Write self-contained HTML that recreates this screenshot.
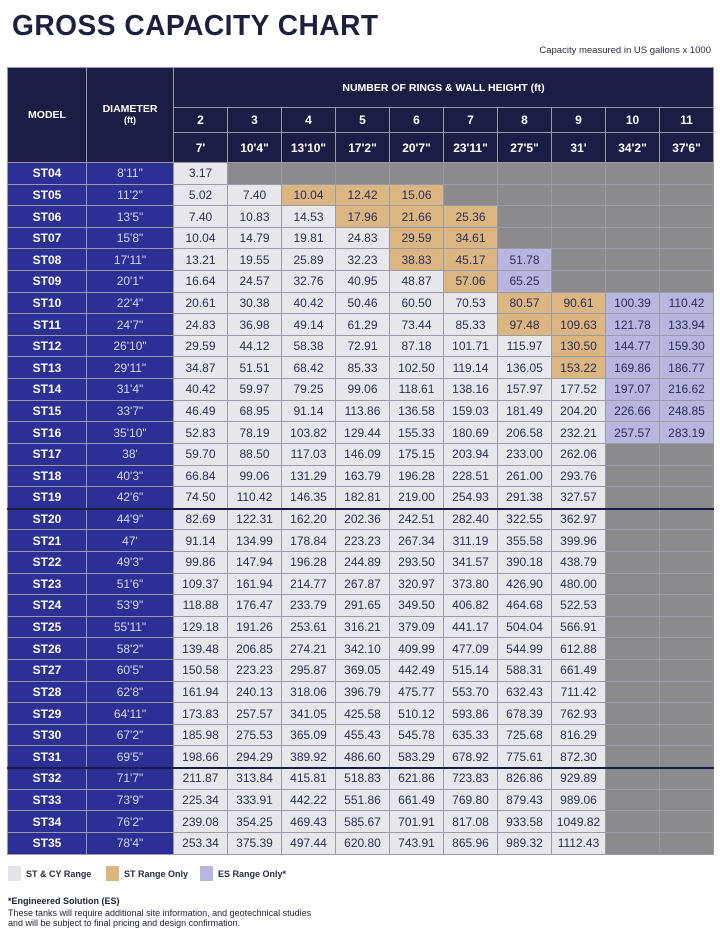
<!DOCTYPE html>
<html><head><meta charset="utf-8">
<style>
*{margin:0;padding:0;box-sizing:border-box}
body{width:720px;height:934px;background:#fff;font-family:"Liberation Sans",sans-serif;position:relative;overflow:hidden}
h1{position:absolute;left:12px;top:10px;font-size:29px;font-weight:bold;color:#1d1f3d;letter-spacing:0.5px;transform:scaleX(0.97);transform-origin:left}
.sub{position:absolute;right:9px;top:45px;font-size:9.5px;color:#2a2c45}
.t{position:absolute;left:7px;top:67px;width:707px;display:grid;grid-template-columns:78px 86px repeat(10,53px);grid-template-rows:39px 24px 29px repeat(32,20.62px);gap:1px;padding:1px;background:#9a9aa6}
.t>div{display:flex;align-items:center;justify-content:center;font-size:12px;white-space:nowrap;background:#e7e7eb;color:#2b2d55}
.t>.h{background:#1b1d45;color:#fff;font-weight:bold;font-size:12px}
.t>.m{background:#2b2f96;color:#fff;font-weight:bold}
.t>.d{background:#2b2f96;color:#d8d8f0}
.t>.o{background:#dcb680}
.t>.p{background:#b8b6de}
.t>.g{background:#8b8b8e}
.sep{position:absolute;left:7px;width:707px;height:2px;background:#1b1d45}
.leg{position:absolute;top:869px;font-size:9px;font-weight:bold;color:#2a2c45}
.sq{position:absolute;top:866px;width:13px;height:15px}
.fn{position:absolute;left:8px;font-size:9px;color:#1d1f30}
</style></head><body>
<h1>GROSS CAPACITY CHART</h1>
<div class="sub">Capacity measured in US gallons x 1000</div>
<div class="t">
<div class="h" style="grid-row:1/4;grid-column:1;font-size:10.5px">MODEL</div>
<div class="h" style="grid-row:1/4;grid-column:2;font-size:10.5px;flex-direction:column;line-height:11px">DIAMETER<span style="font-size:9px">(ft)</span></div>
<div class="h" style="grid-row:1;grid-column:3/13;font-size:10.5px">NUMBER OF RINGS &amp; WALL HEIGHT (ft)</div>
<div class="h">2</div><div class="h">3</div><div class="h">4</div><div class="h">5</div><div class="h">6</div><div class="h">7</div><div class="h">8</div><div class="h">9</div><div class="h">10</div><div class="h">11</div>
<div class="h">7'</div><div class="h">10'4"</div><div class="h">13'10"</div><div class="h">17'2"</div><div class="h">20'7"</div><div class="h">23'11"</div><div class="h">27'5"</div><div class="h">31'</div><div class="h">34'2"</div><div class="h">37'6"</div>
<div class="m">ST04</div><div class="d">8'11"</div><div>3.17</div><div class="g"></div><div class="g"></div><div class="g"></div><div class="g"></div><div class="g"></div><div class="g"></div><div class="g"></div><div class="g"></div><div class="g"></div>
<div class="m">ST05</div><div class="d">11'2"</div><div>5.02</div><div>7.40</div><div class="o">10.04</div><div class="o">12.42</div><div class="o">15.06</div><div class="g"></div><div class="g"></div><div class="g"></div><div class="g"></div><div class="g"></div>
<div class="m">ST06</div><div class="d">13'5"</div><div>7.40</div><div>10.83</div><div>14.53</div><div class="o">17.96</div><div class="o">21.66</div><div class="o">25.36</div><div class="g"></div><div class="g"></div><div class="g"></div><div class="g"></div>
<div class="m">ST07</div><div class="d">15'8"</div><div>10.04</div><div>14.79</div><div>19.81</div><div>24.83</div><div class="o">29.59</div><div class="o">34.61</div><div class="g"></div><div class="g"></div><div class="g"></div><div class="g"></div>
<div class="m">ST08</div><div class="d">17'11"</div><div>13.21</div><div>19.55</div><div>25.89</div><div>32.23</div><div class="o">38.83</div><div class="o">45.17</div><div class="p">51.78</div><div class="g"></div><div class="g"></div><div class="g"></div>
<div class="m">ST09</div><div class="d">20'1"</div><div>16.64</div><div>24.57</div><div>32.76</div><div>40.95</div><div>48.87</div><div class="o">57.06</div><div class="p">65.25</div><div class="g"></div><div class="g"></div><div class="g"></div>
<div class="m">ST10</div><div class="d">22'4"</div><div>20.61</div><div>30.38</div><div>40.42</div><div>50.46</div><div>60.50</div><div>70.53</div><div class="o">80.57</div><div class="o">90.61</div><div class="p">100.39</div><div class="p">110.42</div>
<div class="m">ST11</div><div class="d">24'7"</div><div>24.83</div><div>36.98</div><div>49.14</div><div>61.29</div><div>73.44</div><div>85.33</div><div class="o">97.48</div><div class="o">109.63</div><div class="p">121.78</div><div class="p">133.94</div>
<div class="m">ST12</div><div class="d">26'10"</div><div>29.59</div><div>44.12</div><div>58.38</div><div>72.91</div><div>87.18</div><div>101.71</div><div>115.97</div><div class="o">130.50</div><div class="p">144.77</div><div class="p">159.30</div>
<div class="m">ST13</div><div class="d">29'11"</div><div>34.87</div><div>51.51</div><div>68.42</div><div>85.33</div><div>102.50</div><div>119.14</div><div>136.05</div><div class="o">153.22</div><div class="p">169.86</div><div class="p">186.77</div>
<div class="m">ST14</div><div class="d">31'4"</div><div>40.42</div><div>59.97</div><div>79.25</div><div>99.06</div><div>118.61</div><div>138.16</div><div>157.97</div><div>177.52</div><div class="p">197.07</div><div class="p">216.62</div>
<div class="m">ST15</div><div class="d">33'7"</div><div>46.49</div><div>68.95</div><div>91.14</div><div>113.86</div><div>136.58</div><div>159.03</div><div>181.49</div><div>204.20</div><div class="p">226.66</div><div class="p">248.85</div>
<div class="m">ST16</div><div class="d">35'10"</div><div>52.83</div><div>78.19</div><div>103.82</div><div>129.44</div><div>155.33</div><div>180.69</div><div>206.58</div><div>232.21</div><div class="p">257.57</div><div class="p">283.19</div>
<div class="m">ST17</div><div class="d">38'</div><div>59.70</div><div>88.50</div><div>117.03</div><div>146.09</div><div>175.15</div><div>203.94</div><div>233.00</div><div>262.06</div><div class="g"></div><div class="g"></div>
<div class="m">ST18</div><div class="d">40'3"</div><div>66.84</div><div>99.06</div><div>131.29</div><div>163.79</div><div>196.28</div><div>228.51</div><div>261.00</div><div>293.76</div><div class="g"></div><div class="g"></div>
<div class="m">ST19</div><div class="d">42'6"</div><div>74.50</div><div>110.42</div><div>146.35</div><div>182.81</div><div>219.00</div><div>254.93</div><div>291.38</div><div>327.57</div><div class="g"></div><div class="g"></div>
<div class="m">ST20</div><div class="d">44'9"</div><div>82.69</div><div>122.31</div><div>162.20</div><div>202.36</div><div>242.51</div><div>282.40</div><div>322.55</div><div>362.97</div><div class="g"></div><div class="g"></div>
<div class="m">ST21</div><div class="d">47'</div><div>91.14</div><div>134.99</div><div>178.84</div><div>223.23</div><div>267.34</div><div>311.19</div><div>355.58</div><div>399.96</div><div class="g"></div><div class="g"></div>
<div class="m">ST22</div><div class="d">49'3"</div><div>99.86</div><div>147.94</div><div>196.28</div><div>244.89</div><div>293.50</div><div>341.57</div><div>390.18</div><div>438.79</div><div class="g"></div><div class="g"></div>
<div class="m">ST23</div><div class="d">51'6"</div><div>109.37</div><div>161.94</div><div>214.77</div><div>267.87</div><div>320.97</div><div>373.80</div><div>426.90</div><div>480.00</div><div class="g"></div><div class="g"></div>
<div class="m">ST24</div><div class="d">53'9"</div><div>118.88</div><div>176.47</div><div>233.79</div><div>291.65</div><div>349.50</div><div>406.82</div><div>464.68</div><div>522.53</div><div class="g"></div><div class="g"></div>
<div class="m">ST25</div><div class="d">55'11"</div><div>129.18</div><div>191.26</div><div>253.61</div><div>316.21</div><div>379.09</div><div>441.17</div><div>504.04</div><div>566.91</div><div class="g"></div><div class="g"></div>
<div class="m">ST26</div><div class="d">58'2"</div><div>139.48</div><div>206.85</div><div>274.21</div><div>342.10</div><div>409.99</div><div>477.09</div><div>544.99</div><div>612.88</div><div class="g"></div><div class="g"></div>
<div class="m">ST27</div><div class="d">60'5"</div><div>150.58</div><div>223.23</div><div>295.87</div><div>369.05</div><div>442.49</div><div>515.14</div><div>588.31</div><div>661.49</div><div class="g"></div><div class="g"></div>
<div class="m">ST28</div><div class="d">62'8"</div><div>161.94</div><div>240.13</div><div>318.06</div><div>396.79</div><div>475.77</div><div>553.70</div><div>632.43</div><div>711.42</div><div class="g"></div><div class="g"></div>
<div class="m">ST29</div><div class="d">64'11"</div><div>173.83</div><div>257.57</div><div>341.05</div><div>425.58</div><div>510.12</div><div>593.86</div><div>678.39</div><div>762.93</div><div class="g"></div><div class="g"></div>
<div class="m">ST30</div><div class="d">67'2"</div><div>185.98</div><div>275.53</div><div>365.09</div><div>455.43</div><div>545.78</div><div>635.33</div><div>725.68</div><div>816.29</div><div class="g"></div><div class="g"></div>
<div class="m">ST31</div><div class="d">69'5"</div><div>198.66</div><div>294.29</div><div>389.92</div><div>486.60</div><div>583.29</div><div>678.92</div><div>775.61</div><div>872.30</div><div class="g"></div><div class="g"></div>
<div class="m">ST32</div><div class="d">71'7"</div><div>211.87</div><div>313.84</div><div>415.81</div><div>518.83</div><div>621.86</div><div>723.83</div><div>826.86</div><div>929.89</div><div class="g"></div><div class="g"></div>
<div class="m">ST33</div><div class="d">73'9"</div><div>225.34</div><div>333.91</div><div>442.22</div><div>551.86</div><div>661.49</div><div>769.80</div><div>879.43</div><div>989.06</div><div class="g"></div><div class="g"></div>
<div class="m">ST34</div><div class="d">76'2"</div><div>239.08</div><div>354.25</div><div>469.43</div><div>585.67</div><div>701.91</div><div>817.08</div><div>933.58</div><div>1049.82</div><div class="g"></div><div class="g"></div>
<div class="m">ST35</div><div class="d">78'4"</div><div>253.34</div><div>375.39</div><div>497.44</div><div>620.80</div><div>743.91</div><div>865.96</div><div>989.32</div><div>1112.43</div><div class="g"></div><div class="g"></div>
</div>
<div class="sep" style="top:508px"></div>
<div class="sep" style="top:767px"></div>
<div class="sq" style="left:8px;background:#e4e4e8"></div><div class="leg" style="left:26px">ST &amp; CY Range</div>
<div class="sq" style="left:106px;background:#dcb680"></div><div class="leg" style="left:124px">ST Range Only</div>
<div class="sq" style="left:200px;background:#b8b6de"></div><div class="leg" style="left:218px">ES Range Only*</div>
<div class="fn" style="top:896px;font-weight:bold">*Engineered Solution (ES)</div>
<div class="fn" style="top:908px">These tanks will require additional site information, and geotechnical studies</div>
<div class="fn" style="top:918px">and will be subject to final pricing and design confirmation.</div>
</body></html>
